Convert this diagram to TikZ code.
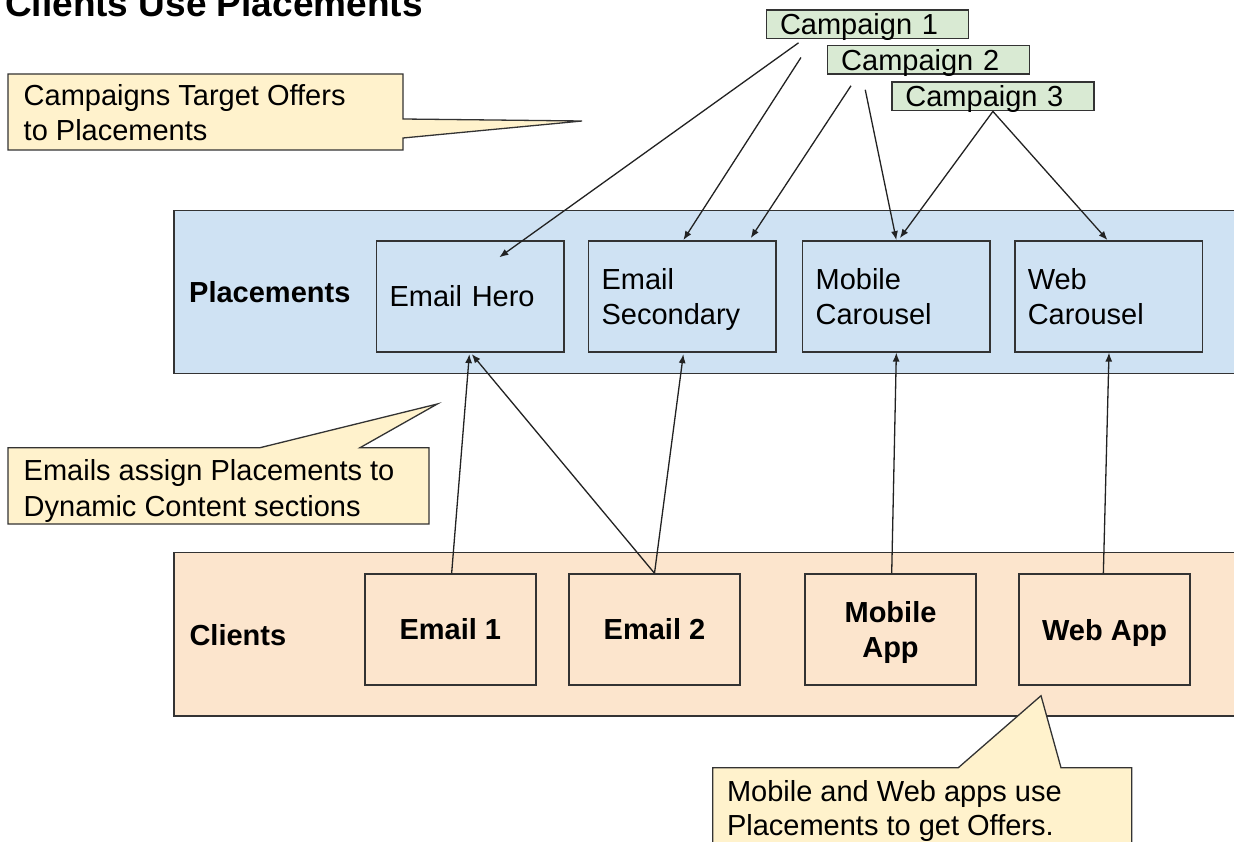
\documentclass[tikz,border=0pt]{standalone}
\usepackage{fontspec}
\setmainfont{Liberation Sans}
\usetikzlibrary{arrows.meta}

\definecolor{placefill}{HTML}{CFE2F3}
\definecolor{clientfill}{HTML}{FCE5CD}
\definecolor{campfill}{HTML}{D9EAD3}
\definecolor{notefill}{HTML}{FFF2CC}
\definecolor{ink}{HTML}{333333}
\definecolor{wire}{HTML}{222222}

% keep descenders of a last line out of the vertical centring
\newcommand\nodepth[1]{\raisebox{0pt}[\height][0pt]{#1}}

\tikzset{
  every node/.style={font=\fontsize{29}{35}\selectfont, text=black},
  band/.style={draw=ink, line width=1.5pt, rectangle, inner sep=0pt},
  bandlabel/.style={anchor=base west, inner sep=0pt,
    font=\fontsize{29}{35}\selectfont\bfseries},
  placebox/.style={draw=ink, line width=1.5pt, rectangle,
    minimum width=187.5pt, minimum height=111pt,
    text width=161.5pt, inner xsep=13pt, inner ysep=0pt, align=left},
  clientbox/.style={draw=ink, line width=1.5pt, rectangle,
    minimum width=171pt, minimum height=111pt, inner sep=0pt, align=center,
    font=\fontsize{29}{35}\selectfont\bfseries},
  campbox/.style={draw=ink, line width=1.5pt, rectangle, fill=campfill,
    minimum width=202pt, minimum height=28.5pt,
    text width=175pt, inner xsep=13.5pt, inner ysep=0pt, align=left,
    text height=21pt, text depth=0pt},
  note/.style={draw=ink, line width=1.3pt, fill=notefill, line join=miter},
  notetext/.style={anchor=north west, inner sep=0pt, align=left},
  link/.style={draw=wire, line width=1.3pt, -{Latex[length=9pt,width=7pt]}},
}

\begin{document}
\begin{tikzpicture}[x=1pt, y=-1pt]
\useasboundingbox (0,0) rectangle (1234,842);
\clip (0,0) rectangle (1234,842);
\fill[white] (0,0) rectangle (1234,842);

% title
\node[anchor=base west, inner sep=0pt,
      font=\fontsize{37}{44}\selectfont\bfseries] (title) at (5,16.5)
  {Clients Use Placements};

% layers
\node[band, fill=placefill, minimum width=1076pt, minimum height=162.6pt]
  (pband) at (712,292) {};
\node[band, fill=clientfill, minimum width=1076pt, minimum height=163.7pt]
  (cband) at (712,634.15) {};
\node[bandlabel] (plabel) at (189,302.7) {Placements};
\node[bandlabel] (clabel) at (189.3,645) {Clients};

% placements
\node[placebox] (ehero) at (470.35,296.35) {Email Hero};
\node[placebox] (esec)  at (682.35,296.35) {Email\\\nodepth{Secondary}};
\node[placebox] (mcar)  at (896.35,296.35) {Mobile\\Carousel};
\node[placebox] (wcar)  at (1108.5,296.35) {Web\\Carousel};

% clients
\node[clientbox] (e1)   at (450.35,629.5) {Email 1};
\node[clientbox] (e2)   at (654.5,629.5)  {Email 2};
\node[clientbox] (mapp) at (890.5,629.5)  {Mobile\\\nodepth{App}};
\node[clientbox] (wapp) at (1104.65,629.5) {\nodepth{Web App}};

% campaigns
\node[campbox] (c1) at (867.5,24.5) {Campaign 1};
\node[campbox] (c2) at (928.7,60)   {Campaign 2};
\node[campbox] (c3) at (992.9,96.4) {Campaign 3};

% callouts
\draw[note] (8,74) -- (403,74) -- (403,119) -- (582,121) -- (403,138)
  -- (403,150) -- (8,150) -- cycle;
\node[notetext, font=\fontsize{29}{35}\selectfont] (n1) at (23.5,84.4)
  {Campaigns Target Offers\\to Placements};

\draw[note] (8,447.7) -- (260,447.7) -- (437.3,404) -- (360,447.7)
  -- (429,447.7) -- (429,524) -- (8,524) -- cycle;
\node[notetext, font=\fontsize{29}{36}\selectfont] (n2) at (23.5,458.9)
  {Emails assign Placements to\\Dynamic Content sections};

\draw[note] (712.7,767.7) -- (958.3,767.7) -- (1041,695.7) -- (1061,767.7)
  -- (1131.7,767.7) -- (1131.7,880) -- (712.7,880) -- cycle;
\node[notetext, font=\fontsize{29}{34}\selectfont] (n3) at (726.8,780.5)
  {Mobile and Web apps use\\Placements to get Offers.};

% campaigns target placements
\draw[link] ([xshift=32.8pt,yshift=-3.3pt]c1.south west)
  -- ([xshift=123.4pt,yshift=-17.2pt]ehero.north west);
\draw[link] ([xshift=35.2pt,yshift=-18pt]c1.south west)
  -- ([xshift=1pt]esec.north);
\draw[link] ([xshift=24pt,yshift=-10.8pt]c2.south west)
  -- ([xshift=-26.1pt,yshift=2pt]esec.north east);
\draw[link] ([xshift=38.3pt,yshift=-14.8pt]c2.south west)
  -- (mcar.north);
\draw[link] (c3.south) -- ([xshift=3.5pt,yshift=2pt]mcar.north);
\draw[link] (c3.south) -- ([xshift=-1pt]wcar.north);

% clients use placements
\draw[link] ([xshift=1.3pt]e1.north) -- ([xshift=-1pt,yshift=-1.5pt]ehero.south);
\draw[link] (e2.north) -- ([xshift=1.4pt,yshift=-1.5pt]ehero.south);
\draw[link] (e2.north) -- ([xshift=1pt,yshift=-1.5pt]esec.south);
\draw[link] ([xshift=1.2pt]mapp.north) -- (mcar.south);
\draw[link] ([xshift=-1.3pt]wapp.north) -- ([xshift=0.5pt]wcar.south);
\end{tikzpicture}
\end{document}
